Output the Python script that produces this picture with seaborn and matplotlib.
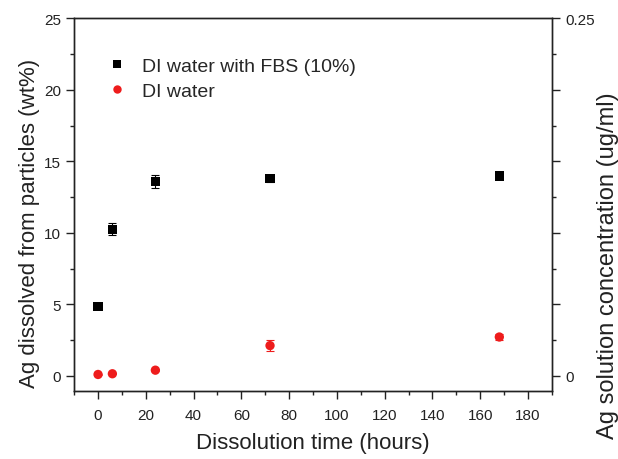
import numpy as np
import pandas as pd
import matplotlib
matplotlib.use("Agg")
import matplotlib.pyplot as plt
import seaborn as sns
from matplotlib.ticker import MultipleLocator, FixedLocator

# ---- data ----
time_h = [0, 6, 24, 72, 168]
fbs_vals = [4.85, 10.25, 13.6, 13.78, 13.97]
fbs_err = [0.1, 0.43, 0.45, 0.22, 0.12]
water_vals = [0.1, 0.15, 0.4, 2.12, 2.72]
water_err = [0.05, 0.05, 0.08, 0.4, 0.2]
series_names = ["DI water with FBS (10%)", "DI water"]
series_colors = ["#000000", "#EE1C1C"]
x_ticks = [0, 20, 40, 60, 80, 100, 120, 140, 160, 180]
y_ticks = [0, 5, 10, 15, 20, 25]

df = pd.DataFrame({
    "time": time_h * 2,
    "value": fbs_vals + water_vals,
    "err": fbs_err + water_err,
    "series": [series_names[0]] * len(time_h) + [series_names[1]] * len(time_h),
})

sns.set_theme(style="ticks")
plt.rcParams["font.family"] = ["Liberation Sans", "DejaVu Sans"]

fig = plt.figure(figsize=(6.18, 4.60), dpi=100)
ax = fig.add_axes([0.120, 0.148, 0.773, 0.810])

# error bars
for name, col in zip(series_names, series_colors):
    sub = df[df["series"] == name]
    ax.errorbar(sub["time"], sub["value"], yerr=sub["err"], fmt="none",
                ecolor=col, elinewidth=0.8, capsize=3, capthick=0.8, zorder=2)

sns.scatterplot(data=df, x="time", y="value", hue="series", style="series",
                palette=dict(zip(series_names, series_colors)),
                markers={series_names[0]: "s", series_names[1]: "o"},
                s=45, edgecolor="none", linewidth=0, ax=ax, zorder=3, legend=True)

ax.set_xlim(-10, 190)
ax.set_ylim(-1.05, 25)
ax.xaxis.set_major_locator(FixedLocator(x_ticks))
ax.xaxis.set_minor_locator(MultipleLocator(10))
ax.yaxis.set_major_locator(FixedLocator(y_ticks))
ax.yaxis.set_minor_locator(MultipleLocator(2.5))
ax.tick_params(axis="both", which="major", direction="out", length=6, width=1.0,
               labelsize=11, colors="#222222", labelcolor="#222222")
ax.tick_params(axis="both", which="minor", direction="out", length=3, width=1.0, colors="#222222")
ax.tick_params(axis="x", pad=6)
for sp in ax.spines.values():
    sp.set_linewidth(1.0)
    sp.set_color("#222222")
    sp.set_visible(True)

ax.set_xlabel("Dissolution time (hours)", fontsize=16, color="#222222")
ax.set_ylabel("Ag dissolved from particles (wt%)", fontsize=16, color="#222222")
ax.xaxis.set_label_coords(0.5, -0.11)
ax.yaxis.set_label_coords(-0.072, 0.452)

# right axis
ax2 = ax.twinx()
ax2.set_ylim(-0.0105, 0.25)
ax2.yaxis.set_major_locator(FixedLocator([0, 0.05, 0.1, 0.15, 0.2, 0.25]))
ax2.yaxis.set_minor_locator(MultipleLocator(0.025))
ax2.set_yticklabels(["0", "", "", "", "", "0.25"])
ax2.tick_params(axis="y", which="major", direction="out", length=6, width=1.0,
                labelsize=11, colors="#222222", labelcolor="#222222")
ax2.tick_params(axis="y", which="minor", direction="out", length=3, width=1.0, colors="#222222")
for sp in ax2.spines.values():
    sp.set_linewidth(1.0)
    sp.set_color("#222222")
ax2.set_ylabel("Ag solution concentration (ug/ml)", fontsize=17, color="#222222")
ax2.yaxis.set_label_coords(1.094, 0.34)

# legend
handles, labels = ax.get_legend_handles_labels()
leg = ax.legend(handles, labels, loc="upper left", bbox_to_anchor=(0.013, 0.943),
                frameon=False, fontsize=14, handletextpad=0.25, labelspacing=0.38,
                markerscale=0.9)

fig.savefig("out.png", dpi=100)
